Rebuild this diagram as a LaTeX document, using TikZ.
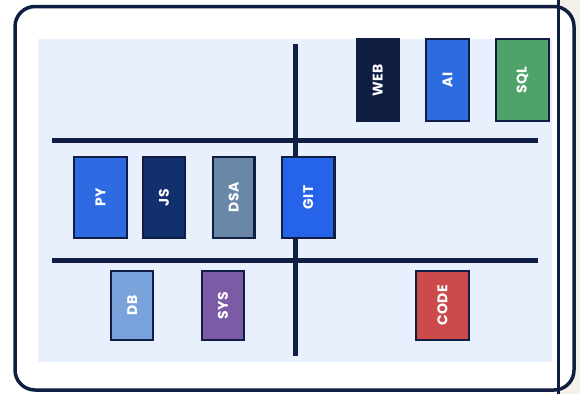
\documentclass[tikz,border=0pt]{standalone}
\usepackage{fontspec}
\newfontfamily\bookfont{Poppins}[LetterSpace=3]
\definecolor{navy}{HTML}{0F1E42}
\definecolor{panel}{HTML}{E8F0FD}
\definecolor{beige}{HTML}{F5F1EA}
\definecolor{cweb}{HTML}{0F1D40}
\definecolor{cai}{HTML}{2D6BE0}
\definecolor{csql}{HTML}{4FA36A}
\definecolor{cpy}{HTML}{2E6BE3}
\definecolor{cjs}{HTML}{13306E}
\definecolor{cdsa}{HTML}{6A87A8}
\definecolor{cgit}{HTML}{2563EB}
\definecolor{cdb}{HTML}{7AA3DC}
\definecolor{csys}{HTML}{7B5AA6}
\definecolor{ccode}{HTML}{CC4A4A}
\begin{document}
\begin{tikzpicture}[x=1pt,y=-1pt,
  book/.style={draw=navy, line width=2.4pt, inner sep=0pt, text=white,
    font=\bookfont\bfseries\fontsize{14}{14}\selectfont},
  shelf/.style={draw=navy, line width=5pt}]
\useasboundingbox (0,0) rectangle (580,394);
\fill[white] (0,0) rectangle (558.5,394);
\fill[beige] (558.5,0) rectangle (580,394);
\draw[navy, line width=3.5pt, fill=white, rounded corners=20pt] (15,6.5) rectangle (574,390);
\draw[navy, line width=2.5pt] (558.5,0) -- (558.5,394);
\fill[panel] (38,39) rectangle (552,362);
% shelves
\coordinate (s1l) at (52,140); \coordinate (s1r) at (538,140);
\coordinate (s2l) at (52,260); \coordinate (s2r) at (538,260);
\coordinate (vt) at (295,44); \coordinate (vb) at (295,356);
\draw[shelf] (s1l) -- (s1r);
\draw[shelf] (s2l) -- (s2r);
\draw[shelf] (vt) -- (vb);
% top row
\node[book, fill=cweb, minimum width=42pt, minimum height=81.6pt] (web) at (377.75,80) {\rotatebox{90}{WEB}};
\node[book, fill=cai, minimum width=42.6pt, minimum height=81.6pt] (ai) at (447.5,80) {\rotatebox{90}{AI}};
\node[book, fill=csql, minimum width=52.6pt, minimum height=81.6pt] (sql) at (522.5,80) {\rotatebox{90}{SQL}};
% middle row
\node[book, fill=cpy, minimum width=52.6pt, minimum height=80.6pt] (py) at (100.5,197.5) {\rotatebox{90}{PY}};
\node[book, fill=cjs, minimum width=41.6pt, minimum height=80.6pt] (js) at (164,197.5) {\rotatebox{90}{JS}};
\node[book, fill=cdsa, minimum width=41.1pt, minimum height=80.6pt] (dsa) at (233.75,197.5) {\rotatebox{90}{DSA}};
\node[book, fill=cgit, minimum width=52.1pt, minimum height=80.6pt] (git) at (308.25,197.5) {\rotatebox{90}{GIT}};
% bottom row
\node[book, fill=cdb, minimum width=42pt, minimum height=68.6pt] (db) at (132.2,305.5) {\rotatebox{90}{DB}};
\node[book, fill=csys, minimum width=41.6pt, minimum height=68.6pt] (sys) at (223,305.5) {\rotatebox{90}{SYS}};
\node[book, fill=ccode, minimum width=52.6pt, minimum height=68.6pt] (code) at (442.5,305.5) {\rotatebox{90}{CODE}};
\end{tikzpicture}
\end{document}
